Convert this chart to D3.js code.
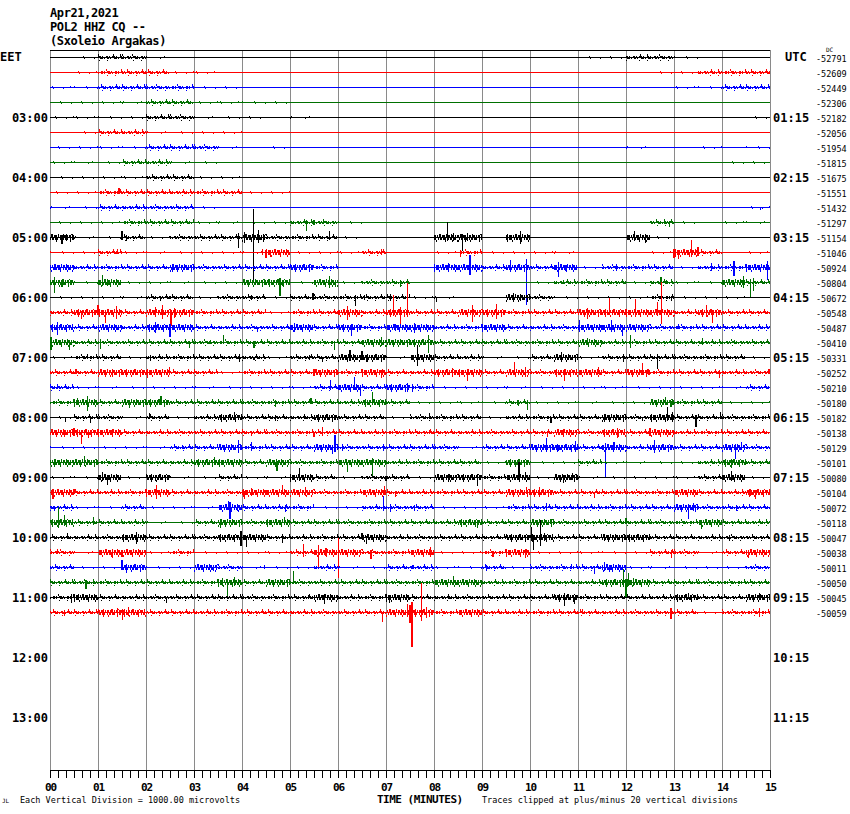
<!DOCTYPE html>
<html><head><meta charset="utf-8">
<script src="https://cdn.jsdelivr.net/npm/d3@7"></script>
<style>body{margin:0;background:#fff}svg{display:block}</style>
</head><body><svg id="c" width="850" height="814"></svg>
<script>
// ---------------- DATA ----------------
const titleLines = ["Apr21,2021", "POL2 HHZ CQ --", "(Sxoleio Argakas)"];
const minuteTicks = d3.range(0, 16);
const labelRows = [4, 8, 12, 16, 20, 24, 28, 32, 36, 40, 44];
const eetLabels = ["03:00","04:00","05:00","06:00","07:00","08:00","09:00","10:00","11:00","12:00","13:00"];
const utcLabels = ["01:15","02:15","03:15","04:15","05:15","06:15","07:15","08:15","09:15","10:15","11:15"];
const dcOffsets = [-52791,-52609,-52449,-52306,-52182,-52056,-51954,-51815,-51675,-51551,-51432,-51297,
  -51154,-51046,-50924,-50804,-50672,-50548,-50487,-50410,-50331,-50252,-50210,-50180,-50182,-50138,
  -50129,-50101,-50080,-50104,-50072,-50118,-50047,-50038,-50011,-50050,-50045,-50059];
const traceColors = ["#000000", "#ff0000", "#0000ff", "#007000"];
// background noise level per 30-second bin (two digits per minute), one string per trace line
const rowNoise = [
 "01 22 10 00 00 00 00 00 00 00 00 11 22 10 00",
 "01 22 21 10 00 00 00 00 00 00 00 00 01 12 22",
 "11 22 22 11 00 00 00 00 00 00 00 00 00 11 22",
 "11 11 22 11 11 00 00 00 00 00 00 00 00 00 00",
 "11 11 22 11 10 10 00 00 00 00 00 00 00 00 01",
 "01 22 11 11 00 00 00 00 00 00 00 00 00 00 00",
 "11 11 22 21 01 00 00 00 00 00 00 00 10 01 01",
 "11 12 21 10 00 00 00 00 00 00 00 00 00 00 11",
 "11 11 22 11 00 00 00 00 00 00 00 00 00 00 00",
 "11 22 22 22 11 00 00 00 00 00 00 00 00 00 00",
 "11 22 22 10 00 00 00 00 00 00 00 00 00 00 01",
 "11 12 22 11 11 22 10 00 00 00 00 00 02 10 11",
 "31 12 12 22 32 22 10 00 33 03 00 00 31 00 00",
 "11 21 11 11 13 11 12 00 12 11 11 00 01 32 01",
 "32 22 23 22 22 32 00 00 33 23 23 12 22 12 23",
 "31 31 11 11 33 13 12 20 00 00 12 22 12 11 32",
 "11 11 22 12 21 22 22 21 10 03 21 11 12 11 10",
 "23 32 33 22 21 22 32 32 23 32 22 33 33 23 22",
 "32 32 33 22 22 32 32 33 22 32 22 33 32 22 22",
 "32 22 22 22 22 22 23 33 22 22 22 32 22 22 22",
 "12 21 22 22 21 22 33 13 22 11 23 12 22 22 21",
 "22 33 32 21 22 23 23 22 33 23 23 32 32 22 22",
 "21 11 11 11 11 12 32 32 11 11 11 11 11 11 12",
 "23 23 32 22 22 22 23 21 11 12 11 11 13 22 11",
 "12 21 21 23 22 23 22 12 22 12 22 23 23 22 22",
 "33 32 22 22 22 22 22 22 22 22 23 23 23 22 22",
 "11 11 12 23 22 23 22 22 21 22 33 23 23 22 32",
 "33 22 22 33 23 22 33 22 22 13 11 21 11 12 32",
 "11 31 31 12 11 32 12 21 33 23 13 11 11 12 31",
 "32 22 32 22 33 32 23 22 22 23 32 22 22 32 23",
 "21 12 11 13 22 21 12 22 11 12 22 22 22 32 22",
 "32 22 11 23 23 22 22 22 23 22 32 22 22 23 22",
 "22 23 22 23 32 22 23 22 22 23 32 23 32 22 22",
 "21 33 12 11 11 23 32 23 11 23 11 11 12 21 23",
 "21 13 11 32 11 12 11 22 11 21 22 23 11 11 12",
 "22 22 22 23 23 22 22 22 33 22 22 23 32 22 22",
 "23 22 22 22 22 23 22 32 22 22 23 22 22 32 23",
 "22 33 22 22 22 22 22 33 23 22 22 22 22 21 22"
];
// notable excursions per trace: [minute, up, down], amplitude in 1/15 of a vertical division
const rowSpikes = [
 [], [], [], [], [], [], [], [], [],
 [[1.44,5,1]],
 [[14.8,1,2]],
 [[5.35,3,8],[5.5,3,2],[5.7,2,1],[12.8,4,1],[12.9,2,4]],
 [[0.25,3,6],[0.35,4,3],[1.5,7,2],[1.6,3,3],[3.92,5,10],[4.05,6,5],[4.24,29,43],[4.35,8,5],[4.45,4,3],[5.82,7,2],[8.28,16,3],[8.4,5,3],[8.6,4,13],[8.7,5,3],[9.8,7,6],[12.18,7,3],[12.4,3,5]],
 [[1.4,4,1],[4.42,4,2],[4.5,3,5],[4.6,2,4],[6.9,4,2],[8.55,3,4],[13.0,4,5],[13.1,3,6],[13.36,13,4],[13.5,6,3]],
 [[0.1,3,2],[2.55,2,4],[2.65,3,1],[5.4,4,1],[8.3,5,1],[8.75,13,7],[9.6,8,4],[9.92,9,37],[10.6,6,9],[10.75,3,3],[11.8,4,3],[13.78,5,3],[14.25,7,8],[14.95,7,12]],
 [[0.1,6,10],[0.25,3,4],[1.1,8,3],[1.2,4,3],[4.55,4,2],[4.79,5,13],[4.85,3,3],[5.82,7,5],[5.95,3,4],[7.3,3,4],[10.7,3,1],[12.73,6,2],[12.85,3,1],[14.45,7,5],[14.59,4,15],[14.65,5,8]],
 [[2.3,2,2],[2.5,2,1],[4.2,3,2],[5.48,5,2],[6.37,3,8],[6.55,3,2],[7.1,4,3],[8.05,1,4],[9.65,5,3],[9.8,3,3],[12.95,2,3]],
 [[0.65,2,6],[1.0,8,2],[1.15,3,10],[1.38,7,6],[2.2,6,4],[2.35,8,6],[2.52,3,13],[2.6,5,5],[6.2,7,7],[7.15,18,3],[7.3,6,14],[7.45,30,4],[8.8,8,9],[9.3,9,6],[11.2,5,6],[11.66,15,2],[12.2,14,4],[12.65,11,3],[12.74,31,11],[13.68,8,4],[13.8,3,10]],
 [[0.15,6,7],[2.2,6,5],[2.5,2,9],[4.33,1,4],[5.1,5,4],[6.28,2,8],[7.2,4,3],[7.6,5,5],[11.03,8,2],[11.7,8,4],[11.93,3,8],[13.1,4,1]],
 [[0.02,6,7],[0.4,2,7],[1.05,4,6],[2.9,2,5],[3.35,3,1],[3.62,8,1],[4.25,2,5],[5.93,2,7],[6.9,6,3],[7.88,8,10],[11.2,5,2],[12.1,8,5],[13.6,5,2],[14.26,3,1]],
 [[0.78,4,1],[2.1,3,3],[3.95,4,4],[4.25,1,2],[5.4,3,2],[5.68,1,4],[6.25,8,3],[6.5,7,2],[6.6,2,4],[7.65,13,8],[10.65,6,4],[11.95,4,4],[12.65,4,11]],
 [[0.54,4,1],[1.3,3,4],[2.03,1,5],[2.49,6,1],[5.5,4,3],[6.9,3,5],[8.38,5,3],[8.7,3,8],[9.67,11,1],[9.9,6,4],[10.72,3,8],[11.42,6,1],[12.35,10,1],[12.46,4,1],[13.95,3,5],[14.98,4,1]],
 [[0.16,4,1],[5.85,8,2],[6.35,11,2],[6.47,2,8],[7.45,5,4],[7.55,4,4]],
 [[0.58,5,1],[0.78,7,8],[1.65,2,5],[2.31,7,1],[4.7,3,4],[5.44,5,1],[6.72,11,2],[9.75,3,2],[9.95,3,7],[12.83,6,2],[12.95,2,4]],
 [[0.33,1,4],[0.85,1,5],[2.07,5,1],[3.85,6,1],[4.7,3,3],[5.3,4,1],[7.9,5,1],[10.44,1,5],[11.55,3,4],[12.35,1,3],[12.86,11,3],[12.97,6,4],[13.46,3,9],[13.97,6,1]],
 [[0.3,3,4],[0.5,5,3],[0.65,2,11],[0.8,3,5],[1.3,4,3],[4.2,2,3],[5.5,1,4],[5.68,6,3],[7.9,3,1],[10.37,1,4],[10.7,4,1],[11.83,5,5],[12.5,5,3]],
 [[2.76,3,1],[3.92,8,5],[4.2,6,2],[5.89,3,6],[5.94,13,4],[6.1,4,3],[6.95,1,3],[10.35,10,4],[10.6,3,3],[10.95,7,4],[11.57,5,29],[11.75,6,2],[12.6,8,5],[14.28,4,11],[14.4,6,2]],
 [[0.1,3,4],[0.72,7,3],[3.1,2,4],[3.42,6,1],[4.73,2,8],[6.2,1,9],[6.72,5,14],[9.7,3,4],[14.2,4,5]],
 [[1.1,6,3],[1.2,2,7],[2.2,3,3],[5.2,10,3],[7.0,2,3],[8.3,4,4],[8.9,4,8],[9.77,16,2],[9.9,6,2],[10.7,3,5],[10.88,5,2],[14.2,7,3]],
 [[0.06,4,6],[0.5,4,1],[2.22,8,6],[4.05,2,6],[4.2,5,3],[4.85,8,1],[5.33,6,3],[6.97,7,1],[7.2,1,4],[9.92,6,1],[10.2,6,3],[11.35,1,5],[14.6,4,3],[14.7,3,6]],
 [[0.1,2,3],[3.72,7,2],[3.75,6,11],[3.9,4,3],[4.9,3,4],[6.95,12,3],[7.1,4,4],[7.6,3,3],[10.35,5,3],[13.3,3,11],[13.4,5,3],[14.3,3,3]],
 [[0.17,16,5],[0.3,8,3],[0.9,6,2],[3.55,4,5],[4.88,6,1],[8.9,3,5],[10.44,4,1],[12.0,5,1],[13.58,1,6]],
 [[0.37,5,1],[1.8,6,6],[3.98,7,8],[4.1,2,9],[4.85,2,5],[6.5,5,1],[6.6,2,6],[10.03,11,3],[10.08,3,12],[10.22,18,8],[10.3,5,3],[11.55,4,3],[14.16,3,3]],
 [[0.15,4,1],[1.3,4,5],[1.5,3,4],[5.28,9,4],[5.6,8,14],[5.75,5,3],[6.01,15,25],[6.69,3,6],[7.92,6,4],[9.23,1,4],[9.9,4,5],[12.95,3,5],[14.55,3,5]],
 [[1.5,8,2],[1.6,3,5],[3.4,2,3],[4.47,3,1],[7.56,3,1],[9.1,3,3],[10.86,4,1],[11.35,2,6],[11.55,6,3],[11.65,3,4]],
 [[0.75,3,6],[0.9,4,1],[3.6,5,3],[3.7,2,14],[3.85,6,3],[4.95,4,1],[5.07,12,1],[8.4,7,2],[8.92,3,1],[11.95,14,4],[12.0,4,14],[12.05,10,3],[12.15,5,3]],
 [[0.45,4,5],[0.6,4,2],[2.42,1,5],[5.38,3,1],[5.72,4,6],[7.07,3,5],[8.3,3,1],[10.72,5,8],[10.93,1,6],[13.3,5,1],[14.78,5,1]],
 [[0.3,3,3],[1.4,5,4],[1.51,4,7],[1.63,6,3],[6.93,1,9],[7.45,9,4],[7.5,8,10],[7.54,11,34],[7.74,30,8],[7.85,6,5],[8.9,4,1],[11.1,4,1],[12.94,5,6],[14.78,5,4]]
];

// ---------------- DRAWING ----------------
const svg = d3.select("#c");
const FONT = "'DejaVu Sans Mono', monospace";
const x = d3.scaleLinear().domain([0, 15]).range([50, 770]);
const rowY = d3.scaleBand().domain(d3.range(48)).range([50, 770]);
const amp = d3.scaleLinear().domain([0, 15]).range([0, rowY.bandwidth()]);
const cy = r => rowY(r) + rowY.bandwidth() / 2;

// title
svg.append("g").selectAll("text").data(titleLines).join("text")
  .attr("x", 50).attr("y", (d, i) => 17 + i * 14)
  .attr("font-family", FONT).attr("font-weight", "bold").attr("font-size", 12)
  .attr("letter-spacing", -0.4).attr("fill", "#000").text(d => d);

// grid
svg.append("g").selectAll("line").data(minuteTicks).join("line")
  .attr("x1", d => x(d) + 0.5).attr("x2", d => x(d) + 0.5).attr("y1", 50).attr("y2", 770)
  .attr("stroke", "#8a8a8a").attr("stroke-width", 1.5).attr("shape-rendering", "crispEdges");
svg.append("line").attr("x1", x(0)).attr("x2", x(15)).attr("y1", 50.5).attr("y2", 50.5)
  .attr("stroke", "#000").attr("stroke-width", 1.2).attr("shape-rendering", "crispEdges");

// noise texture styles by level
const textures = {
  1: [{dy: -1.4, w: 1, dash: "1 11 1 17 1 8"}, {dy: 1.4, w: 1, dash: "1 14 1 9 1 19"}],
  2: [{dy: -1.3, w: 1.1, dash: "2 1 1 2 3 1 1 3"}, {dy: 1.3, w: 1.1, dash: "1 2 2 1 1 3 3 1"},
      {dy: -2.6, w: 1.2, dash: "1 9 1 14 1 6"}, {dy: 2.6, w: 1.2, dash: "1 12 1 7 1 16"}],
  3: [{dy: -1.5, w: 1.6, dash: "2 1 3 1 1 1"}, {dy: 1.5, w: 1.6, dash: "1 1 2 1 3 2"},
      {dy: -3.2, w: 1.6, dash: "1 4 1 7 2 5"}, {dy: 3.2, w: 1.6, dash: "1 6 1 4 1 8"}]
};

const traces = svg.append("g");
rowNoise.forEach((str, r) => {
  const col = traceColors[r % 4];
  const g = traces.append("g").attr("stroke", col).attr("shape-rendering", "crispEdges");
  const levels = str.replace(/ /g, "").split("").map(Number);
  levels.forEach((L, b) => {
    if (!L) return;
    textures[L].forEach((t, k) => {
      g.append("line")
        .attr("x1", x(b / 2)).attr("x2", x((b + 1) / 2))
        .attr("y1", cy(r) + t.dy).attr("y2", cy(r) + t.dy)
        .attr("stroke-width", t.w).attr("stroke-dasharray", t.dash)
        .attr("stroke-dashoffset", (r * 5 + b * 3 + k * 2) % 13);
    });
  });
  g.append("line").attr("x1", x(0)).attr("x2", x(15)).attr("y1", cy(r)).attr("y2", cy(r))
    .attr("stroke-width", 1.6);
  g.selectAll("line.sp").data(rowSpikes[r]).join("line").attr("class", "sp")
    .attr("x1", d => x(d[0])).attr("x2", d => x(d[0]))
    .attr("y1", d => cy(r) - amp(d[1])).attr("y2", d => cy(r) + amp(d[2]))
    .attr("stroke-width", 1.3);
});

// hour labels
const lab = svg.append("g").attr("font-family", FONT).attr("font-weight", "bold").attr("font-size", 12).attr("fill", "#000");
lab.selectAll("text.e").data(eetLabels).join("text").attr("class", "e")
  .attr("x", 48).attr("y", (d, i) => cy(labelRows[i]) + 4.5).attr("text-anchor", "end").text(d => d);
lab.selectAll("text.u").data(utcLabels).join("text").attr("class", "u")
  .attr("x", 773).attr("y", (d, i) => cy(labelRows[i]) + 4.5).text(d => d);
lab.append("text").attr("x", 0).attr("y", 61).text("EET");
lab.append("text").attr("x", 785).attr("y", 61).text("UTC");

// DC offsets
svg.append("g").attr("font-family", FONT).attr("font-size", 8.5).attr("fill", "#000")
  .selectAll("text").data(dcOffsets).join("text")
  .attr("x", 816).attr("y", (d, i) => cy(i) + 4).text(d => d);
svg.append("text").attr("x", 826).attr("y", 52).attr("font-family", FONT).attr("font-size", 6)
  .attr("fill", "#000").text("DC");

// time axis
const axG = svg.append("g").attr("transform", "translate(0,770)");
axG.call(d3.axisBottom(x).tickValues(d3.range(0, 15.001, 1 / 6)).tickSize(8).tickFormat("").tickSizeOuter(0));
const majG = svg.append("g").attr("transform", "translate(0,770)");
majG.call(d3.axisBottom(x).tickValues(minuteTicks).tickSize(8).tickPadding(5).tickSizeOuter(0).tickFormat(d3.format("02d")));
[axG, majG].forEach(g => {
  g.selectAll("line").attr("stroke", "#000").attr("shape-rendering", "crispEdges");
  g.select(".domain").attr("stroke", "#000").attr("shape-rendering", "crispEdges");
});
majG.selectAll("text").attr("font-family", FONT).attr("font-weight", "bold").attr("font-size", 11)
  .attr("letter-spacing", -1.2).attr("fill", "#000");

// footer
svg.append("text").attr("x", 377).attr("y", 803).attr("font-family", FONT).attr("font-weight", "bold")
  .attr("font-size", 11).attr("letter-spacing", -0.5).attr("fill", "#000").text("TIME (MINUTES)");
svg.append("text").attr("x", 20).attr("y", 803).attr("font-family", FONT).attr("font-size", 8.5)
  .attr("fill", "#000").text("Each Vertical Division = 1000.00 microvolts");
svg.append("text").attr("x", 482).attr("y", 803).attr("font-family", FONT).attr("font-size", 8.5)
  .attr("fill", "#000").text("Traces clipped at plus/minus 20 vertical divisions");
svg.append("text").attr("x", 2).attr("y", 803).attr("font-family", FONT).attr("font-size", 6)
  .attr("fill", "#000").text("JL");
</script></body></html>
